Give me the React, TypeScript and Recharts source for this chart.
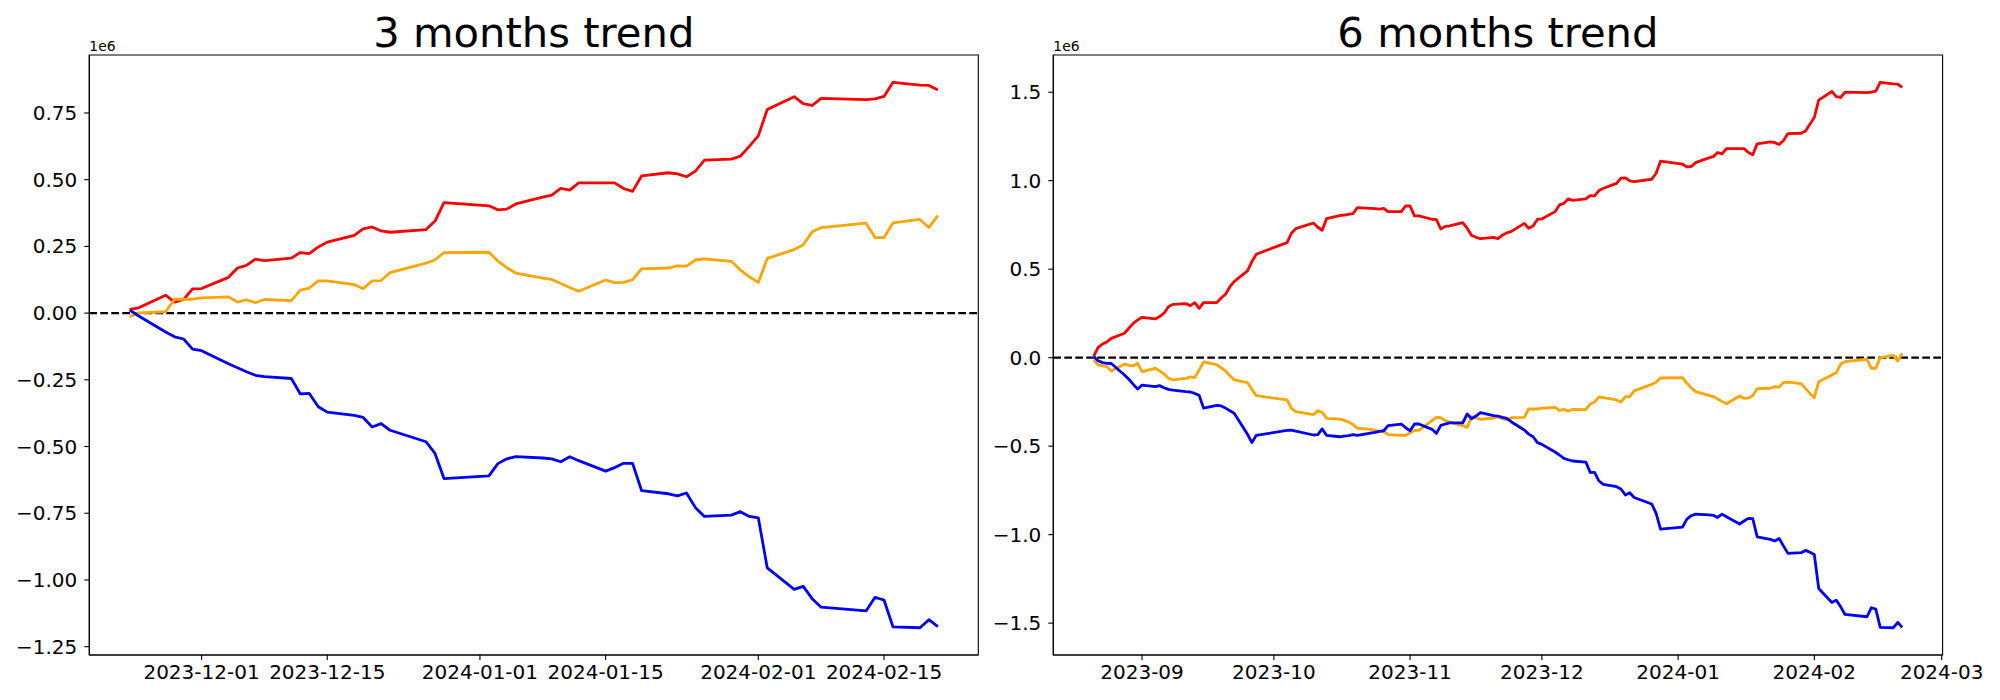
import { LineChart, Line, XAxis, YAxis, ReferenceLine, ReferenceArea } from "recharts";

// 3 months window (values in units of 1e6)
const dates3 = [
  "2023-11-23", "2023-11-24", "2023-11-27", "2023-11-28", "2023-11-29", "2023-11-30",
  "2023-12-01", "2023-12-04", "2023-12-05", "2023-12-06", "2023-12-07", "2023-12-08",
  "2023-12-11", "2023-12-12", "2023-12-13", "2023-12-14", "2023-12-15", "2023-12-18",
  "2023-12-19", "2023-12-20", "2023-12-21", "2023-12-22", "2023-12-26", "2023-12-27",
  "2023-12-28", "2024-01-02", "2024-01-03", "2024-01-04", "2024-01-05", "2024-01-08",
  "2024-01-09", "2024-01-10", "2024-01-11", "2024-01-12", "2024-01-15", "2024-01-16",
  "2024-01-17", "2024-01-18", "2024-01-19", "2024-01-22", "2024-01-23", "2024-01-24",
  "2024-01-25", "2024-01-26", "2024-01-29", "2024-01-30", "2024-01-31", "2024-02-01",
  "2024-02-02", "2024-02-05", "2024-02-06", "2024-02-07", "2024-02-08", "2024-02-13",
  "2024-02-14", "2024-02-15", "2024-02-16", "2024-02-19", "2024-02-20", "2024-02-21",
];
const red3 = [
  0.014, 0.02, 0.067, 0.041, 0.051, 0.091,
  0.092, 0.134, 0.169, 0.179, 0.202, 0.197, 0.206, 0.227, 0.223, 0.248, 0.266, 0.291,
  0.316, 0.323, 0.308, 0.303, 0.313, 0.345, 0.414,
  0.402, 0.387, 0.39, 0.409, 0.435, 0.442, 0.467, 0.461, 0.488, 0.488, 0.488, 0.467,
  0.456, 0.514, 0.526, 0.522, 0.511, 0.532, 0.573, 0.577, 0.588, 0.625,
  0.664, 0.763, 0.811, 0.785, 0.778, 0.805, 0.8, 0.803, 0.812, 0.865, 0.854, 0.853, 0.836,
];
const orange3 = [
  -0.014, 0.001, 0.005, 0.052, 0.052, 0.052,
  0.057, 0.061, 0.041, 0.05, 0.039, 0.051, 0.047, 0.086, 0.094, 0.121, 0.121, 0.107,
  0.091, 0.121, 0.122, 0.152, 0.187, 0.2, 0.227,
  0.228, 0.195, 0.17, 0.15, 0.131, 0.126, 0.111, 0.096, 0.082, 0.124, 0.114, 0.115,
  0.125, 0.166, 0.169, 0.177, 0.176, 0.199, 0.203, 0.194, 0.162, 0.136,
  0.115, 0.205, 0.238, 0.256, 0.305, 0.32, 0.337, 0.283, 0.283, 0.338, 0.351, 0.321, 0.365,
];
const blue3 = [
  0.011, -0.011, -0.071, -0.089, -0.097, -0.135,
  -0.141, -0.19, -0.205, -0.22, -0.233, -0.238, -0.245, -0.303, -0.301, -0.351, -0.371, -0.383,
  -0.391, -0.427, -0.414, -0.439, -0.482, -0.526, -0.62,
  -0.61, -0.564, -0.546, -0.538, -0.543, -0.546, -0.557, -0.538, -0.553, -0.592, -0.579, -0.563,
  -0.563, -0.665, -0.677, -0.685, -0.674, -0.729, -0.762, -0.757, -0.744, -0.762,
  -0.767, -0.955, -1.035, -1.024, -1.07, -1.102, -1.116, -1.065, -1.075, -1.176, -1.179, -1.149, -1.175,
];
const xTicks3 = ["2023-12-01", "2023-12-15", "2024-01-01", "2024-01-15", "2024-02-01", "2024-02-15"];
const yTicks3 = [-1.25, -1, -0.75, -0.5, -0.25, 0, 0.25, 0.5, 0.75];

// 6 months window (values in units of 1e6)
const dates6 = [
  "2023-08-21", "2023-08-22", "2023-08-23", "2023-08-24", "2023-08-25", "2023-08-28",
  "2023-08-29", "2023-08-30", "2023-08-31",
  "2023-09-01", "2023-09-04", "2023-09-05", "2023-09-06", "2023-09-07", "2023-09-08",
  "2023-09-11", "2023-09-12", "2023-09-13", "2023-09-14", "2023-09-15", "2023-09-18",
  "2023-09-19", "2023-09-20", "2023-09-21", "2023-09-22", "2023-09-25", "2023-09-26",
  "2023-09-27",
  "2023-10-04", "2023-10-05", "2023-10-06", "2023-10-10", "2023-10-11", "2023-10-12",
  "2023-10-13", "2023-10-16", "2023-10-17", "2023-10-18", "2023-10-19", "2023-10-20",
  "2023-10-23", "2023-10-24", "2023-10-25", "2023-10-26", "2023-10-27", "2023-10-30",
  "2023-10-31",
  "2023-11-01", "2023-11-02", "2023-11-03", "2023-11-06", "2023-11-07", "2023-11-08",
  "2023-11-09", "2023-11-10", "2023-11-13", "2023-11-14", "2023-11-15", "2023-11-16",
  "2023-11-17", "2023-11-20", "2023-11-21", "2023-11-22", "2023-11-23", "2023-11-24",
  "2023-11-27", "2023-11-28", "2023-11-29", "2023-11-30",
  "2023-12-01", "2023-12-04", "2023-12-05", "2023-12-06", "2023-12-07", "2023-12-08",
  "2023-12-11", "2023-12-12", "2023-12-13", "2023-12-14", "2023-12-15", "2023-12-18",
  "2023-12-19", "2023-12-20", "2023-12-21", "2023-12-22", "2023-12-26", "2023-12-27",
  "2023-12-28",
  "2024-01-02", "2024-01-03", "2024-01-04", "2024-01-05", "2024-01-08", "2024-01-09",
  "2024-01-10", "2024-01-11", "2024-01-12", "2024-01-15", "2024-01-16", "2024-01-17",
  "2024-01-18", "2024-01-19", "2024-01-22", "2024-01-23", "2024-01-24", "2024-01-25",
  "2024-01-26", "2024-01-29", "2024-01-30", "2024-01-31",
  "2024-02-01", "2024-02-02", "2024-02-05", "2024-02-06", "2024-02-07", "2024-02-08",
  "2024-02-13", "2024-02-14", "2024-02-15", "2024-02-16", "2024-02-19", "2024-02-20",
  "2024-02-21",
];
const red6 = [
  0.009, 0.058, 0.077, 0.089, 0.109, 0.138, 0.166, 0.194, 0.213,
  0.228, 0.219, 0.232, 0.251, 0.288, 0.301, 0.305, 0.294, 0.311, 0.279, 0.311, 0.311,
  0.337, 0.358, 0.401, 0.431, 0.49, 0.543, 0.584,
  0.65, 0.703, 0.729, 0.761, 0.737, 0.72, 0.786, 0.803, 0.806, 0.81, 0.814, 0.848,
  0.844, 0.842, 0.839, 0.844, 0.825, 0.825, 0.857,
  0.857, 0.801, 0.801, 0.782, 0.78, 0.727, 0.742, 0.744, 0.763, 0.731, 0.69, 0.68,
  0.673, 0.68, 0.673, 0.692, 0.705, 0.712, 0.759, 0.731, 0.744, 0.782,
  0.784, 0.825, 0.863, 0.872, 0.897, 0.889, 0.897, 0.916, 0.914, 0.944, 0.957, 0.985,
  1.014, 1.016, 0.999, 0.995, 1.008, 1.042, 1.11,
  1.093, 1.078, 1.08, 1.102, 1.129, 1.136, 1.159, 1.151, 1.181, 1.181, 1.181, 1.159,
  1.146, 1.208, 1.219, 1.215, 1.204, 1.227, 1.266, 1.268, 1.281, 1.319,
  1.357, 1.455, 1.504, 1.475, 1.47, 1.5, 1.498, 1.5, 1.506, 1.556, 1.547, 1.545, 1.528,
];
const orange6 = [
  -0.013, -0.041, -0.047, -0.051, -0.075, -0.036, -0.043, -0.047, -0.032,
  -0.079, -0.06, -0.075, -0.092, -0.117, -0.126, -0.117, -0.109, -0.113, -0.07, -0.024, -0.04,
  -0.057, -0.075, -0.102, -0.126, -0.141, -0.179, -0.215,
  -0.239, -0.286, -0.305, -0.322, -0.3, -0.309, -0.343, -0.347, -0.354, -0.364, -0.377, -0.398,
  -0.405, -0.411, -0.415, -0.418, -0.435, -0.439, -0.439,
  -0.426, -0.411, -0.411, -0.356, -0.337, -0.339, -0.356, -0.364, -0.384, -0.394, -0.334, -0.341,
  -0.349, -0.341, -0.334, -0.345, -0.352, -0.339, -0.337, -0.29, -0.29, -0.29,
  -0.286, -0.281, -0.298, -0.292, -0.303, -0.292, -0.294, -0.262, -0.251, -0.222, -0.226, -0.239,
  -0.251, -0.22, -0.22, -0.188, -0.151, -0.139, -0.115,
  -0.113, -0.145, -0.17, -0.192, -0.213, -0.22, -0.234, -0.247, -0.26, -0.217, -0.23, -0.228,
  -0.215, -0.175, -0.173, -0.164, -0.166, -0.141, -0.138, -0.147, -0.175, -0.202,
  -0.226, -0.136, -0.098, -0.085, -0.036, -0.023, -0.009, -0.06, -0.06, 0.0, 0.013, -0.019, 0.024,
];
const blue6 = [
  0.006, -0.017, -0.028, -0.032, -0.033, -0.098, -0.122, -0.151, -0.177,
  -0.155, -0.164, -0.158, -0.17, -0.179, -0.183, -0.192, -0.194, -0.202, -0.213, -0.285, -0.269,
  -0.273, -0.285, -0.3, -0.315, -0.433, -0.48, -0.439,
  -0.411, -0.41, -0.415, -0.437, -0.435, -0.403, -0.439, -0.447, -0.443, -0.441, -0.435, -0.439,
  -0.426, -0.422, -0.416, -0.413, -0.384, -0.375, -0.396,
  -0.413, -0.375, -0.375, -0.405, -0.428, -0.383, -0.375, -0.369, -0.369, -0.318, -0.345, -0.33,
  -0.311, -0.328, -0.33, -0.337, -0.343, -0.362, -0.409, -0.432, -0.447, -0.48,
  -0.49, -0.533, -0.55, -0.569, -0.577, -0.584, -0.59, -0.648, -0.648, -0.697, -0.716, -0.729,
  -0.742, -0.776, -0.763, -0.79, -0.827, -0.88, -0.969,
  -0.957, -0.912, -0.893, -0.884, -0.888, -0.891, -0.903, -0.884, -0.899, -0.94, -0.923, -0.908,
  -0.91, -1.012, -1.027, -1.036, -1.021, -1.065, -1.106, -1.102, -1.089, -1.1,
  -1.112, -1.304, -1.383, -1.37, -1.408, -1.451, -1.464, -1.413, -1.421, -1.524, -1.526, -1.496, -1.524,
];
const xTicks6 = ["2023-09-01", "2023-10-01", "2023-11-01", "2023-12-01", "2024-01-01", "2024-02-01", "2024-03-01"];
const yTicks6 = [-1.5, -1, -0.5, 0, 0.5, 1, 1.5];

const FONT = "DejaVu Sans";
const DAY = 86400000;

const toDay = (s: string) => Date.parse(s + "T00:00:00Z") / DAY;
const dayLabel = (d: number, len: number) =>
  new Date(Math.round(d) * DAY).toISOString().slice(0, len);

function buildRows(dates: string[], red: number[], orange: number[], blue: number[]) {
  return dates.map((d, i) => ({ t: toDay(d), red: red[i], orange: orange[i], blue: blue[i] }));
}

// matplotlib-style 5% margins
function pad(values: number[]): [number, number] {
  const lo = Math.min(...values);
  const hi = Math.max(...values);
  const m = (hi - lo) * 0.05;
  return [lo - m, hi + m];
}

const fmtY = (dec: number) => (v: number) =>
  (v < 0 ? "\u2212" : "") + Math.abs(v).toFixed(dec);

interface PanelProps {
  title: string;
  dates: string[];
  red: number[];
  orange: number[];
  blue: number[];
  xTicks: string[];
  labelLen: number;
  yTicks: number[];
  yDec: number;
  left: number;
  width: number;
  yAxisWidth: number;
  marginRight: number;
}

function Panel(p: PanelProps) {
  const rows = buildRows(p.dates, p.red, p.orange, p.blue);
  const xDomain = pad(rows.map((r) => r.t));
  const yDomain = pad([...p.red, ...p.orange, ...p.blue]);
  const plotLeft = p.left + p.yAxisWidth;
  const plotRight = p.left + p.width - p.marginRight;
  const tick = { fill: "#000", fontSize: 20, fontFamily: FONT };
  const axisLine = { stroke: "#000", strokeWidth: 1.1 };

  return (
    <>
      <div
        style={{
          position: "absolute",
          left: plotLeft,
          width: plotRight - plotLeft,
          top: 11.7,
          textAlign: "center",
          fontSize: 41.7,
          lineHeight: 1,
          fontFamily: FONT,
          whiteSpace: "nowrap",
        }}
      >
        {p.title}
      </div>
      <div
        style={{
          position: "absolute",
          left: plotLeft,
          top: 39.9,
          fontSize: 13.9,
          lineHeight: 1,
          fontFamily: FONT,
        }}
      >
        1e6
      </div>
      <div style={{ position: "absolute", left: p.left, top: 0 }}>
        <LineChart
          width={p.width}
          height={700}
          data={rows}
          margin={{ top: 55, right: p.marginRight, bottom: 0, left: 0 }}
        >
          <XAxis
            dataKey="t"
            type="number"
            domain={xDomain}
            allowDataOverflow
            ticks={p.xTicks.map(toDay)}
            tickFormatter={(v: number) => dayLabel(v, p.labelLen)}
            interval={0}
            height={45}
            tick={tick}
            tickSize={5}
            tickMargin={5}
            axisLine={axisLine}
            tickLine={axisLine}
          />
          <YAxis
            type="number"
            domain={yDomain}
            allowDataOverflow
            ticks={p.yTicks}
            tickFormatter={fmtY(p.yDec)}
            interval={0}
            width={p.yAxisWidth}
            tick={tick}
            tickSize={5}
            tickMargin={7}
            axisLine={axisLine}
            tickLine={axisLine}
          />
          {/* axes frame (top and right spines) */}
          <ReferenceArea
            x1={xDomain[0]}
            x2={xDomain[1]}
            y1={yDomain[0]}
            y2={yDomain[1]}
            fill="none"
            fillOpacity={0}
            stroke="#000"
            strokeWidth={1.1}
            ifOverflow="extendDomain"
          />
          <ReferenceLine y={0} stroke="#000" strokeWidth={2.1} strokeDasharray="7.7 3.3" />
          <Line type="linear" dataKey="red" stroke="#ff0000" strokeWidth={2.8} strokeLinejoin="round" dot={false} isAnimationActive={false} />
          <Line type="linear" dataKey="orange" stroke="#ffa500" strokeWidth={2.8} strokeLinejoin="round" dot={false} isAnimationActive={false} />
          <Line type="linear" dataKey="blue" stroke="#0000ff" strokeWidth={2.8} strokeLinejoin="round" dot={false} isAnimationActive={false} />
        </LineChart>
      </div>
    </>
  );
}

export default function App() {
  return (
    <div
      style={{
        position: "absolute",
        left: 0,
        top: 0,
        width: 2000,
        height: 700,
        background: "#fff",
        overflow: "hidden",
      }}
    >
      <Panel
        title="3 months trend"
        dates={dates3}
        red={red3}
        orange={orange3}
        blue={blue3}
        xTicks={xTicks3}
        labelLen={10}
        yTicks={yTicks3}
        yDec={2}
        left={0}
        width={1000}
        yAxisWidth={89.3}
        marginRight={21.7}
      />
      <Panel
        title="6 months trend"
        dates={dates6}
        red={red6}
        orange={orange6}
        blue={blue6}
        xTicks={xTicks6}
        labelLen={7}
        yTicks={yTicks6}
        yDec={1}
        left={950}
        width={1050}
        yAxisWidth={103.3}
        marginRight={57.4}
      />
    </div>
  );
}
